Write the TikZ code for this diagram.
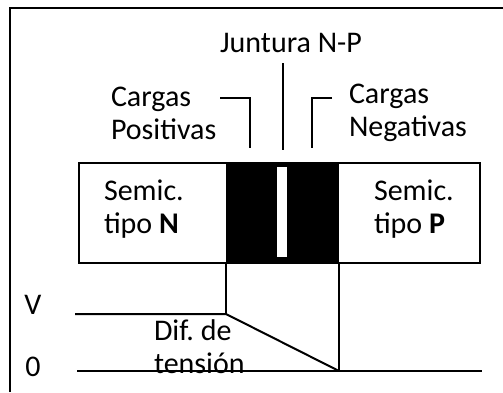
\documentclass[tikz,border=0pt]{standalone}
\usepackage{fontspec}
\setmainfont{Carlito}
\frenchspacing
\begin{document}
\begin{tikzpicture}[x=0.5pt,y=-0.5pt,line width=1pt,
    lbl/.style={font=\fontsize{15}{16.5}\selectfont,inner sep=0pt,align=left}]
    \useasboundingbox (0,0) rectangle (503,392);
    \draw (10,392) -- (10,8) -- (503,8);

    % semiconductor bar
    \draw (79,163) rectangle (480,263);
    \fill (226,163) rectangle (339,263);
    \fill[white] (277,167) rectangle (287,257);
    \path (103,209) node[lbl,anchor=west] (n) {Semic.\\tipo \textbf{N}};
    \path (373,209) node[lbl,anchor=west] (p) {Semic.\\tipo \textbf{P}};

    % labels above
    \path (291,43) node[lbl] (jun) {Juntura N-P};
    \path (110,113) node[lbl,anchor=west] (pos) {Cargas\\Positivas};
    \path (348,113) node[lbl,anchor=west] (neg) {Cargas\\Negativas};

    \coordinate (juntop) at (283,63);
    \coordinate (junbot) at (283,150);
    \coordinate (posa) at (220,98);
    \coordinate (posb) at (250,98);
    \coordinate (posc) at (250,148);
    \coordinate (nega) at (332,98);
    \coordinate (negb) at (312,98);
    \coordinate (negc) at (312,148);
    \draw (juntop) -- (junbot);
    \draw (posa) -- (posb) -- (posc);
    \draw (nega) -- (negb) -- (negc);

    % potential
    \path (33,305) node[lbl] (v) {V};
    \path (33,367) node[lbl] (zero) {0};
    \path (153,347) node[lbl,anchor=west] (dif) {Dif. de\\tensión};

    \coordinate (zl) at (226,263);
    \coordinate (zr) at (339,263);
    \coordinate (vs) at (75,314);
    \coordinate (ve) at (226,314);
    \coordinate (zs) at (77,371);
    \coordinate (zm) at (339,371);
    \coordinate (ze) at (482,371);
    \draw (zl) -- (ve);
    \draw (zr) -- (zm);
    \draw (vs) -- (ve) -- (zm);
    \draw (zs) -- (ze);
\end{tikzpicture}
\end{document}
